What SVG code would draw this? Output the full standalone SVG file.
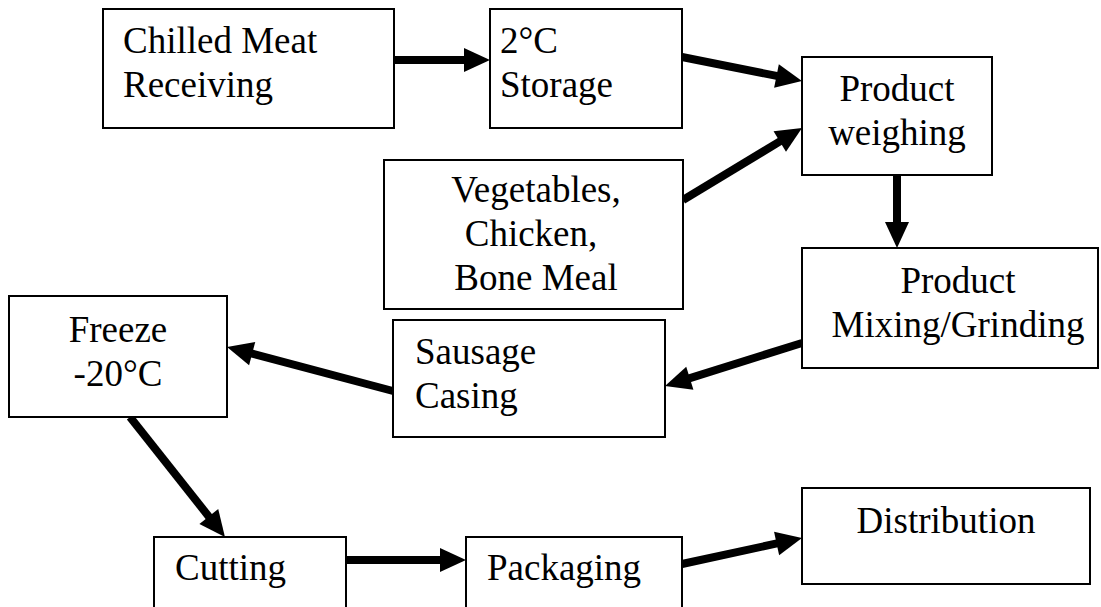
<svg xmlns="http://www.w3.org/2000/svg" width="1101" height="607" viewBox="0 0 1101 607">
<style>
.box{fill:#fff;stroke:#000;stroke-width:2}
.c{text-anchor:middle}
.arr{stroke:#000;stroke-width:8;fill:none;marker-end:url(#ah)}
</style>
<defs>
<marker id="ah" markerUnits="userSpaceOnUse" markerWidth="26" markerHeight="24" refX="4" refY="12" orient="auto" overflow="visible">
<path d="M0,0 L26,12 L0,24 z" fill="#000"/>
</marker>
</defs>
<rect width="1101" height="607" fill="#fff"/>
<g id="connectors">
<line class="arr" x1="394" y1="60" x2="468" y2="60"/>
<line class="arr" x1="682" y1="57" x2="780.4" y2="76.7"/>
<line class="arr" x1="683" y1="200" x2="783.2" y2="139.4"/>
<line class="arr" x1="897" y1="175" x2="897" y2="226"/>
<line class="arr" x1="802" y1="343" x2="686" y2="379.4"/>
<line class="arr" x1="393" y1="391" x2="248.3" y2="352.6"/>
<line class="arr" x1="130" y1="417" x2="211.3" y2="519.7"/>
<line class="arr" x1="346" y1="560" x2="444" y2="560"/>
<line class="arr" x1="682" y1="564" x2="780.5" y2="542.7"/>
</g>
<g font-family="Liberation Serif, Times New Roman, Times, serif" font-size="37" fill="#000">
<g id="receiving">
<rect class="box" x="103" y="9" width="291" height="119"/>
<text x="123" y="53">Chilled Meat</text>
<text x="123" y="97">Receiving</text>
</g>
<g id="storage">
<rect class="box" x="490" y="9" width="192" height="119"/>
<text x="500" y="53">2°C</text>
<text x="500" y="97">Storage</text>
</g>
<g id="weighing">
<rect class="box" x="802" y="57" width="190" height="118"/>
<text class="c" x="897" y="101">Product</text>
<text class="c" x="897" y="145">weighing</text>
</g>
<g id="vegetables">
<rect class="box" x="384" y="160" width="299" height="149"/>
<text class="c" x="536" y="202">Vegetables,</text>
<text class="c" x="531" y="246">Chicken,</text>
<text class="c" x="536" y="290">Bone Meal</text>
</g>
<g id="mixing">
<rect class="box" x="802" y="248" width="296" height="120"/>
<text class="c" x="958" y="293">Product</text>
<text class="c" x="958" y="337">Mixing/Grinding</text>
</g>
<g id="casing">
<rect class="box" x="393" y="320" width="272" height="117"/>
<text x="415" y="364">Sausage</text>
<text x="415" y="408">Casing</text>
</g>
<g id="freeze">
<rect class="box" x="9" y="296" width="218" height="121"/>
<text class="c" x="118" y="342">Freeze</text>
<text class="c" x="118" y="386">-20°C</text>
</g>
<g id="cutting">
<rect class="box" x="154" y="537" width="192" height="90"/>
<text x="175" y="580">Cutting</text>
</g>
<g id="packaging">
<rect class="box" x="466" y="537" width="216" height="90"/>
<text x="487" y="580">Packaging</text>
</g>
<g id="distribution">
<rect class="box" x="802" y="488" width="288" height="96"/>
<text class="c" x="946" y="533">Distribution</text>
</g>
</g>
</svg>
